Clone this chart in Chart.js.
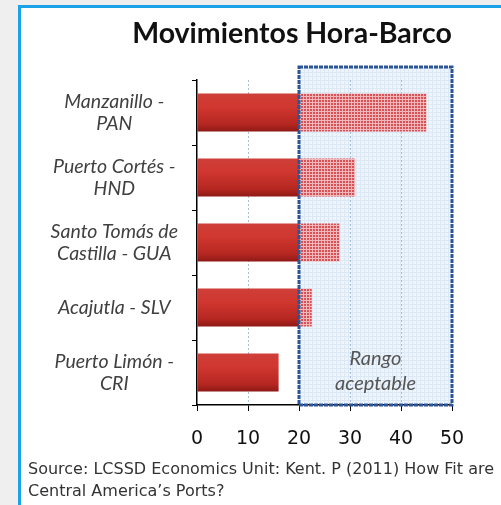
<!DOCTYPE html>
<html>
<head>
<meta charset="utf-8">
<script src="https://cdn.jsdelivr.net/npm/chart.js@4"></script>
<style>
  body { margin: 0; background: #efefef; width: 501px; height: 505px; overflow: hidden; position: relative; font-family: Lato, sans-serif; }
  #panel { position: absolute; left: 18px; top: 5px; width: 600px; height: 600px; background: #fff;
           border-left: 3px solid #1aa3e6; border-top: 3px solid #1aa3e6; }
  #grafico { position: absolute; left: 0; top: 0; }
  #titulo { position: absolute; left: 92px; width: 400px; top: 15px; text-align: center;
            font: bold 28.5px Lato, sans-serif; color: #111; }
  #fuente { position: absolute; left: 28px; top: 458px; font: 16px "DejaVu Sans", sans-serif; color: #333; line-height: 22px; white-space: nowrap; }
</style>
</head>
<body>
<div id="panel"></div>
<canvas id="grafico" width="501" height="505"></canvas>
<div id="titulo">Movimientos Hora-Barco</div>
<div id="fuente">Source: LCSSD Economics Unit: Kent. P (2011) How Fit are<br>Central America’s Ports?</div>
<script>
// puertos (de arriba hacia abajo)
const puertos = [
    ['Manzanillo -', 'PAN'],
    ['Puerto Cortés -', 'HND'],
    ['Santo Tomás de', 'Castilla - GUA'],
    'Acajutla - SLV',
    ['Puerto Limón -', 'CRI']
]
const movimientos = [45, 31, 28, 22.5, 16]
const rangoMin = 20
const rangoMax = 50
const rangoTexto = ['Rango', 'aceptable']

// parte hasta 20 y parte dentro del rango
const base = movimientos.map(v => Math.min(v, rangoMin))
const exceso = movimientos.map(v => Math.max(v - rangoMin, 0))

function patron(w, h, fondo, linea) {
    const c = document.createElement('canvas')
    c.width = w; c.height = h
    const g = c.getContext('2d')
    g.fillStyle = fondo
    g.fillRect(0, 0, w, h)
    g.fillStyle = linea
    g.fillRect(0, 0, w, 1)
    g.fillRect(0, 0, 1, h)
    return g
}

const ctx = document.getElementById('grafico').getContext('2d')
const tramaRoja = ctx.createPattern(patron(3, 3, '#d65257', '#f0b8ba').canvas, 'repeat')
const tramaAzul = ctx.createPattern(patron(4, 4, '#eef4fb', '#dde8f5').canvas, 'repeat')

function degradado(c) {
    const chart = c.chart
    if (!chart.chartArea || c.type !== 'data') return '#c0302a'
    const y = chart.scales.y.getPixelForValue(c.dataIndex)
    const alto = chart.chartArea.height / puertos.length * 0.585
    const g = chart.ctx.createLinearGradient(0, y - alto / 2, 0, y + alto / 2)
    g.addColorStop(0, '#cf3f39')
    g.addColorStop(0.35, '#d0372f')
    g.addColorStop(0.8, '#b62721')
    g.addColorStop(1, '#8e1916')
    return g
}

const rango = {
    id: 'rango',
    beforeDraw(chart) {
        const { ctx, chartArea, scales } = chart
        const x1 = scales.x.getPixelForValue(rangoMin)
        const x2 = scales.x.getPixelForValue(rangoMax)
        ctx.save()
        ctx.fillStyle = tramaAzul
        ctx.fillRect(x1, chartArea.top - 13, x2 - x1, chartArea.bottom - chartArea.top + 13)
        ctx.restore()
    },
    afterDatasetsDraw(chart) {
        const { ctx, chartArea, scales } = chart
        const x1 = scales.x.getPixelForValue(rangoMin)
        const x2 = scales.x.getPixelForValue(rangoMax)
        ctx.save()
        ctx.strokeStyle = '#2b5597'
        ctx.lineWidth = 3
        ctx.setLineDash([4, 1])
        ctx.strokeRect(x1, chartArea.top - 13, x2 - x1, chartArea.bottom - chartArea.top + 13)
        ctx.setLineDash([])
        ctx.fillStyle = '#555'
        ctx.font = 'italic 20px Lato, sans-serif'
        ctx.textAlign = 'center'
        ctx.textBaseline = 'middle'
        ctx.fillText(rangoTexto[0], (x1 + x2) / 2, chartArea.bottom - 46)
        ctx.fillText(rangoTexto[1], (x1 + x2) / 2, chartArea.bottom - 21)
        ctx.restore()
    }
}

new Chart(ctx, {
    type: 'bar',
    data: {
        labels: puertos,
        datasets: [
            { data: base, backgroundColor: degradado, barPercentage: 0.585, categoryPercentage: 1 },
            { data: exceso, backgroundColor: tramaRoja, barPercentage: 0.585, categoryPercentage: 1 }
        ]
    },
    options: {
        indexAxis: 'y',
        responsive: false,
        animation: false,
        devicePixelRatio: 1,
        layout: { padding: { top: 80, right: 49, left: 0, bottom: 0 } },
        plugins: { legend: { display: false }, tooltip: { enabled: false } },
        scales: {
            x: {
                stacked: true,
                min: 0,
                max: 50,
                ticks: { stepSize: 10, color: '#111', font: { family: 'DejaVu Sans', size: 19 }, padding: 17 },
                grid: {
                    color: c => (c.tick && (c.tick.value === 0 || c.tick.value === 50)) ? 'rgba(0,0,0,0)' : '#a9bfdc',
                    tickColor: '#000',
                    tickLength: 6
                },
                border: { color: '#000', width: 1.5, dash: [2, 2] },
                afterFit(scale) { scale.height = 100 }
            },
            y: {
                stacked: true,
                offset: true,
                ticks: { color: '#404040', crossAlign: 'center', font: { family: 'Lato', size: 19.5, style: 'italic', lineHeight: 1.15 }, padding: 14 },
                grid: { drawOnChartArea: false, offset: true, tickColor: '#000', tickLength: 5 },
                border: { color: '#000', width: 1.5 },
                afterFit(scale) { scale.width = 197 }
            }
        }
    },
    plugins: [rango]
})
</script>
</body>
</html>
